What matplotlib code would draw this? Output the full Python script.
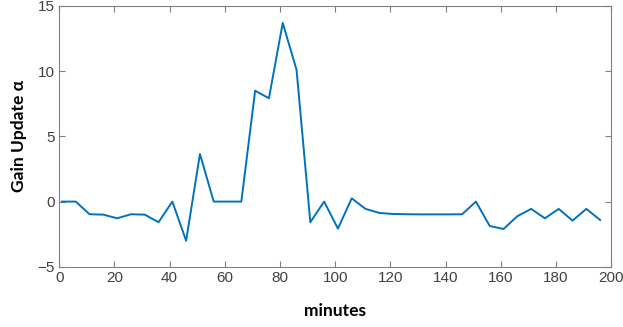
import matplotlib
matplotlib.use("Agg")
import matplotlib.pyplot as plt
import numpy as np

plt.rcParams["font.family"] = ["Liberation Sans", "DejaVu Sans"]

# gain update sampled every 5 minutes
minutes = np.arange(1, 200, 5)
gain = [0, 0, -0.97, -1.0, -1.28, -0.97, -1.0, -1.58, 0, -3.0,
        3.65, 0, 0, 0, 8.5, 7.92, 13.7, 10.1, -1.58, 0,
        -2.07, 0.25, -0.56, -0.87, -0.95, -0.97, -0.98, -0.98, -0.98, -0.97,
        0, -1.87, -2.1, -1.12, -0.56, -1.28, -0.56, -1.46, -0.56, -1.41]

xticks = [0, 20, 40, 60, 80, 100, 120, 140, 160, 180, 200]
yticks = [-5, 0, 5, 10, 15]

fig = plt.figure(figsize=(6.23, 3.27), dpi=100)
ax = fig.add_axes([0.095, 0.184, 0.886, 0.798])
ax.plot(minutes, gain, color="#0072BD", linewidth=1.4)

ax.set_xlim(0, 200)
ax.set_ylim(-5, 15)
ax.set_xticks(xticks)
ax.set_yticks(yticks)
ax.tick_params(direction="in", top=True, right=True, length=4, width=0.8,
               color="#808080", labelcolor="#404040", labelsize=11, pad=3)
for s in ax.spines.values():
    s.set_color("#808080")
    s.set_linewidth(0.8)

ax.set_xlabel("minutes", fontsize=12.5, fontweight="bold", family="Lato",
              color="black", labelpad=13)
ax.set_ylabel("Gain Update α", fontsize=12.5, fontweight="bold", family="Lato",
              color="black", labelpad=8)

fig.savefig("out.png", dpi=100)
